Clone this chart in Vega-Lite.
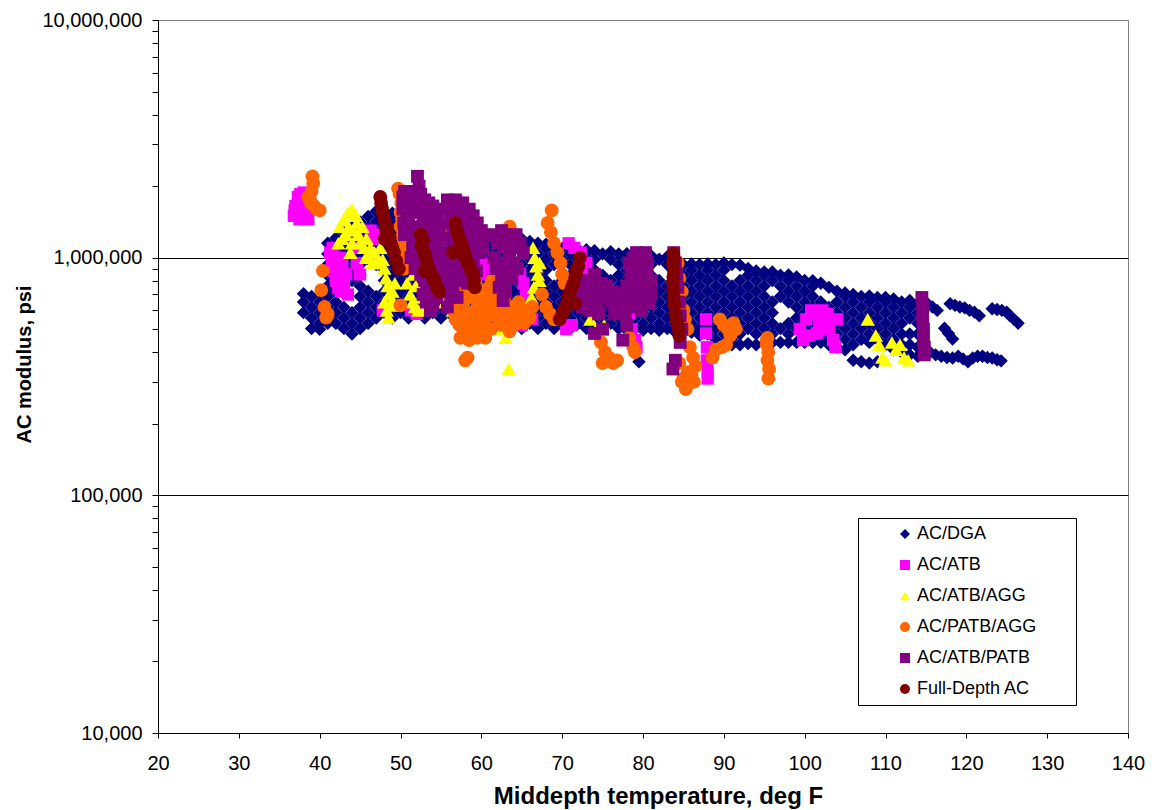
{
  "$schema": "https://vega.github.io/schema/vega-lite/v6.json",
  "width": 970,
  "height": 713,
  "autosize": {"type": "none"},
  "padding": {"left": 158, "top": 20, "right": 24, "bottom": 77},
  "background": "white",
  "config": {
    "font": "Liberation Sans",
    "view": {"stroke": "#808080", "strokeWidth": 1},
    "axis": {
      "domainColor": "black",
      "tickColor": "black",
      "labelColor": "black",
      "titleColor": "black",
      "labelFont": "Liberation Sans",
      "titleFont": "Liberation Sans",
      "labelFontSize": 20,
      "titleFontSize": 20,
      "titleFontWeight": "bold",
      "labelOverlap": false
    }
  },
  "datasets": {
    "dga": [
      {"x":38,"y":587000},{"x":38,"y":651000},{"x":38,"y":705000},
      {"x":39,"y":503000},{"x":39,"y":557000},{"x":39,"y":618000},{"x":39,"y":686000},
      {"x":40,"y":500000},{"x":40,"y":529000},{"x":40,"y":587000},{"x":40,"y":651000},
      {"x":41,"y":530000},{"x":41,"y":557000},{"x":41,"y":618000},{"x":41,"y":686000},{"x":41,"y":760000},{"x":41,"y":843000},{"x":41,"y":935000},{"x":41,"y":1037000},{"x":41,"y":1150000},
      {"x":42,"y":529000},{"x":42,"y":587000},{"x":42,"y":651000},{"x":42,"y":722000},{"x":42,"y":801000},{"x":42,"y":888000},{"x":42,"y":985000},{"x":42,"y":1092000},{"x":42,"y":1211000},
      {"x":43,"y":503000},{"x":43,"y":557000},{"x":43,"y":618000},{"x":43,"y":760000},{"x":43,"y":843000},{"x":43,"y":935000},{"x":43,"y":1037000},{"x":43,"y":1150000},{"x":43,"y":1275000},
      {"x":44,"y":477000},{"x":44,"y":529000},{"x":44,"y":587000},{"x":44,"y":801000},{"x":44,"y":888000},{"x":44,"y":985000},{"x":44,"y":1092000},{"x":44,"y":1211000},{"x":44,"y":1343000},
      {"x":45,"y":503000},{"x":45,"y":557000},{"x":45,"y":618000},{"x":45,"y":686000},{"x":45,"y":760000},{"x":45,"y":843000},{"x":45,"y":935000},{"x":45,"y":1037000},{"x":45,"y":1150000},{"x":45,"y":1275000},{"x":45,"y":1414000},
      {"x":46,"y":529000},{"x":46,"y":587000},{"x":46,"y":651000},{"x":46,"y":722000},{"x":46,"y":985000},{"x":46,"y":1092000},{"x":46,"y":1211000},{"x":46,"y":1343000},{"x":46,"y":1490000},
      {"x":47,"y":557000},{"x":47,"y":618000},{"x":47,"y":686000},{"x":47,"y":935000},{"x":47,"y":1037000},{"x":47,"y":1150000},{"x":47,"y":1275000},{"x":47,"y":1414000},{"x":47,"y":1568000},
      {"x":48,"y":587000},{"x":48,"y":651000},{"x":48,"y":722000},{"x":48,"y":801000},{"x":48,"y":888000},{"x":48,"y":985000},{"x":48,"y":1092000},{"x":48,"y":1211000},{"x":48,"y":1343000},{"x":48,"y":1490000},
      {"x":49,"y":557000},{"x":49,"y":618000},{"x":49,"y":686000},{"x":49,"y":760000},{"x":49,"y":843000},{"x":49,"y":935000},{"x":49,"y":1037000},{"x":49,"y":1150000},{"x":49,"y":1275000},{"x":49,"y":1414000},{"x":49,"y":1540000},
      {"x":50,"y":587000},{"x":50,"y":651000},{"x":50,"y":722000},{"x":50,"y":801000},{"x":50,"y":888000},{"x":50,"y":985000},{"x":50,"y":1092000},{"x":50,"y":1211000},{"x":50,"y":1343000},{"x":50,"y":1460000},
      {"x":51,"y":557000},{"x":51,"y":618000},{"x":51,"y":686000},{"x":51,"y":760000},{"x":51,"y":843000},{"x":51,"y":935000},{"x":51,"y":1037000},{"x":51,"y":1150000},{"x":51,"y":1275000},{"x":51,"y":1414000},
      {"x":52,"y":587000},{"x":52,"y":651000},{"x":52,"y":722000},{"x":52,"y":801000},{"x":52,"y":888000},{"x":52,"y":985000},{"x":52,"y":1092000},{"x":52,"y":1211000},{"x":52,"y":1343000},
      {"x":53,"y":557000},{"x":53,"y":618000},{"x":53,"y":686000},{"x":53,"y":760000},{"x":53,"y":843000},{"x":53,"y":935000},{"x":53,"y":1037000},{"x":53,"y":1150000},{"x":53,"y":1275000},
      {"x":54,"y":587000},{"x":54,"y":651000},{"x":54,"y":722000},{"x":54,"y":801000},{"x":54,"y":888000},{"x":54,"y":985000},{"x":54,"y":1092000},{"x":54,"y":1211000},{"x":54,"y":1343000},
      {"x":55,"y":557000},{"x":55,"y":618000},{"x":55,"y":686000},{"x":55,"y":760000},{"x":55,"y":843000},{"x":55,"y":935000},{"x":55,"y":1037000},{"x":55,"y":1150000},{"x":55,"y":1275000},
      {"x":56,"y":587000},{"x":56,"y":651000},{"x":56,"y":722000},{"x":56,"y":801000},{"x":56,"y":888000},{"x":56,"y":985000},{"x":56,"y":1092000},{"x":56,"y":1211000},{"x":56,"y":1290000},
      {"x":57,"y":557000},{"x":57,"y":618000},{"x":57,"y":686000},{"x":57,"y":760000},{"x":57,"y":843000},{"x":57,"y":935000},{"x":57,"y":1037000},{"x":57,"y":1150000},{"x":57,"y":1275000},
      {"x":58,"y":587000},{"x":58,"y":651000},{"x":58,"y":722000},{"x":58,"y":801000},{"x":58,"y":888000},{"x":58,"y":985000},{"x":58,"y":1092000},{"x":58,"y":1211000},{"x":58,"y":1260000},
      {"x":59,"y":557000},{"x":59,"y":618000},{"x":59,"y":686000},{"x":59,"y":760000},{"x":59,"y":843000},{"x":59,"y":935000},{"x":59,"y":1037000},{"x":59,"y":1150000},{"x":59,"y":1240000},
      {"x":60,"y":529000},{"x":60,"y":587000},{"x":60,"y":651000},{"x":60,"y":722000},{"x":60,"y":801000},{"x":60,"y":888000},{"x":60,"y":985000},{"x":60,"y":1092000},{"x":60,"y":1211000},
      {"x":61,"y":503000},{"x":61,"y":557000},{"x":61,"y":618000},{"x":61,"y":686000},{"x":61,"y":760000},{"x":61,"y":843000},{"x":61,"y":935000},{"x":61,"y":1037000},{"x":61,"y":1150000},{"x":61,"y":1220000},
      {"x":62,"y":529000},{"x":62,"y":587000},{"x":62,"y":651000},{"x":62,"y":722000},{"x":62,"y":801000},{"x":62,"y":888000},{"x":62,"y":985000},{"x":62,"y":1092000},{"x":62,"y":1211000},
      {"x":63,"y":503000},{"x":63,"y":557000},{"x":63,"y":618000},{"x":63,"y":686000},{"x":63,"y":760000},{"x":63,"y":843000},{"x":63,"y":935000},{"x":63,"y":1037000},{"x":63,"y":1150000},{"x":63,"y":1220000},
      {"x":64,"y":529000},{"x":64,"y":587000},{"x":64,"y":651000},{"x":64,"y":722000},{"x":64,"y":801000},{"x":64,"y":888000},{"x":64,"y":1092000},{"x":64,"y":1211000},
      {"x":65,"y":503000},{"x":65,"y":557000},{"x":65,"y":618000},{"x":65,"y":686000},{"x":65,"y":760000},{"x":65,"y":843000},{"x":65,"y":935000},{"x":65,"y":1150000},{"x":65,"y":1200000},
      {"x":66,"y":529000},{"x":66,"y":587000},{"x":66,"y":651000},{"x":66,"y":722000},{"x":66,"y":801000},{"x":66,"y":888000},{"x":66,"y":985000},{"x":66,"y":1092000},{"x":66,"y":1170000},
      {"x":67,"y":503000},{"x":67,"y":557000},{"x":67,"y":618000},{"x":67,"y":686000},{"x":67,"y":760000},{"x":67,"y":843000},{"x":67,"y":935000},{"x":67,"y":1037000},{"x":67,"y":1150000},
      {"x":68,"y":529000},{"x":68,"y":587000},{"x":68,"y":651000},{"x":68,"y":722000},{"x":68,"y":801000},{"x":68,"y":888000},{"x":68,"y":985000},{"x":68,"y":1092000},{"x":68,"y":1140000},
      {"x":69,"y":503000},{"x":69,"y":557000},{"x":69,"y":618000},{"x":69,"y":686000},{"x":69,"y":760000},{"x":69,"y":935000},{"x":69,"y":1037000},{"x":69,"y":1120000},
      {"x":70,"y":529000},{"x":70,"y":587000},{"x":70,"y":651000},{"x":70,"y":722000},{"x":70,"y":801000},{"x":70,"y":985000},{"x":70,"y":1092000},
      {"x":71,"y":503000},{"x":71,"y":557000},{"x":71,"y":618000},{"x":71,"y":686000},{"x":71,"y":760000},{"x":71,"y":843000},{"x":71,"y":935000},{"x":71,"y":1037000},{"x":71,"y":1100000},
      {"x":72,"y":529000},{"x":72,"y":587000},{"x":72,"y":651000},{"x":72,"y":722000},{"x":72,"y":801000},{"x":72,"y":888000},{"x":72,"y":985000},{"x":72,"y":1080000},
      {"x":73,"y":503000},{"x":73,"y":557000},{"x":73,"y":618000},{"x":73,"y":686000},{"x":73,"y":760000},{"x":73,"y":843000},{"x":73,"y":935000},{"x":73,"y":1037000},{"x":73,"y":1080000},
      {"x":74,"y":529000},{"x":74,"y":587000},{"x":74,"y":651000},{"x":74,"y":722000},{"x":74,"y":801000},{"x":74,"y":888000},{"x":74,"y":985000},{"x":74,"y":1070000},
      {"x":75,"y":503000},{"x":75,"y":557000},{"x":75,"y":618000},{"x":75,"y":686000},{"x":75,"y":760000},{"x":75,"y":843000},{"x":75,"y":1037000},
      {"x":76,"y":529000},{"x":76,"y":587000},{"x":76,"y":651000},{"x":76,"y":722000},{"x":76,"y":801000},{"x":76,"y":985000},{"x":76,"y":1060000},
      {"x":77,"y":503000},{"x":77,"y":557000},{"x":77,"y":618000},{"x":77,"y":686000},{"x":77,"y":760000},{"x":77,"y":843000},{"x":77,"y":935000},{"x":77,"y":1037000},
      {"x":78,"y":495000},{"x":78,"y":529000},{"x":78,"y":587000},{"x":78,"y":651000},{"x":78,"y":722000},{"x":78,"y":801000},{"x":78,"y":888000},{"x":78,"y":985000},{"x":78,"y":1040000},
      {"x":79,"y":503000},{"x":79,"y":557000},{"x":79,"y":618000},{"x":79,"y":686000},{"x":79,"y":760000},{"x":79,"y":843000},{"x":79,"y":935000},{"x":79,"y":1030000},{"x":79.5,"y":365000},
      {"x":80,"y":495000},{"x":80,"y":529000},{"x":80,"y":587000},{"x":80,"y":651000},{"x":80,"y":722000},{"x":80,"y":801000},{"x":80,"y":888000},{"x":80,"y":985000},
      {"x":81,"y":503000},{"x":81,"y":557000},{"x":81,"y":618000},{"x":81,"y":686000},{"x":81,"y":760000},{"x":81,"y":843000},{"x":81,"y":935000},{"x":81,"y":1020000},
      {"x":82,"y":495000},{"x":82,"y":529000},{"x":82,"y":587000},{"x":82,"y":651000},{"x":82,"y":722000},{"x":82,"y":801000},{"x":82,"y":985000},
      {"x":83,"y":503000},{"x":83,"y":557000},{"x":83,"y":618000},{"x":83,"y":686000},{"x":83,"y":760000},{"x":83,"y":935000},{"x":83,"y":1010000},
      {"x":84,"y":485000},{"x":84,"y":529000},{"x":84,"y":587000},{"x":84,"y":651000},{"x":84,"y":722000},{"x":84,"y":801000},{"x":84,"y":888000},{"x":84,"y":985000},
      {"x":85,"y":490000},{"x":85,"y":557000},{"x":85,"y":618000},{"x":85,"y":686000},{"x":85,"y":760000},{"x":85,"y":843000},{"x":85,"y":935000},
      {"x":86,"y":485000},{"x":86,"y":529000},{"x":86,"y":587000},{"x":86,"y":651000},{"x":86,"y":722000},{"x":86,"y":801000},{"x":86,"y":888000},{"x":86,"y":940000},
      {"x":87,"y":472000},{"x":87,"y":503000},{"x":87,"y":557000},{"x":87,"y":618000},{"x":87,"y":686000},{"x":87,"y":760000},{"x":87,"y":843000},{"x":87,"y":935000},
      {"x":88,"y":477000},{"x":88,"y":529000},{"x":88,"y":587000},{"x":88,"y":651000},{"x":88,"y":722000},{"x":88,"y":801000},{"x":88,"y":888000},{"x":88,"y":940000},
      {"x":89,"y":453000},{"x":89,"y":503000},{"x":89,"y":557000},{"x":89,"y":618000},{"x":89,"y":686000},{"x":89,"y":760000},{"x":89,"y":843000},{"x":89,"y":935000},
      {"x":90,"y":440000},{"x":90,"y":477000},{"x":90,"y":529000},{"x":90,"y":587000},{"x":90,"y":651000},{"x":90,"y":722000},{"x":90,"y":801000},{"x":90,"y":888000},{"x":90,"y":950000},
      {"x":91,"y":430000},{"x":91,"y":453000},{"x":91,"y":503000},{"x":91,"y":557000},{"x":91,"y":618000},{"x":91,"y":686000},{"x":91,"y":760000},{"x":91,"y":935000},
      {"x":92,"y":430000},{"x":92,"y":477000},{"x":92,"y":529000},{"x":92,"y":587000},{"x":92,"y":651000},{"x":92,"y":722000},{"x":92,"y":801000},{"x":92,"y":930000},
      {"x":93,"y":435000},{"x":93,"y":503000},{"x":93,"y":557000},{"x":93,"y":618000},{"x":93,"y":686000},{"x":93,"y":760000},{"x":93,"y":843000},{"x":93,"y":900000},
      {"x":94,"y":430000},{"x":94,"y":477000},{"x":94,"y":529000},{"x":94,"y":587000},{"x":94,"y":651000},{"x":94,"y":722000},{"x":94,"y":801000},{"x":94,"y":880000},
      {"x":95,"y":435000},{"x":95,"y":503000},{"x":95,"y":557000},{"x":95,"y":618000},{"x":95,"y":686000},{"x":95,"y":760000},{"x":95,"y":843000},{"x":95,"y":870000},
      {"x":96,"y":440000},{"x":96,"y":477000},{"x":96,"y":529000},{"x":96,"y":587000},{"x":96,"y":651000},{"x":96,"y":801000},{"x":96,"y":870000},
      {"x":97,"y":440000},{"x":97,"y":503000},{"x":97,"y":686000},{"x":97,"y":760000},{"x":97,"y":843000},
      {"x":98,"y":440000},{"x":98,"y":477000},{"x":98,"y":529000},{"x":98,"y":651000},{"x":98,"y":722000},{"x":98,"y":801000},{"x":98,"y":845000},
      {"x":99,"y":440000},{"x":99,"y":503000},{"x":99,"y":557000},{"x":99,"y":618000},{"x":99,"y":686000},{"x":99,"y":760000},{"x":99,"y":830000},
      {"x":100,"y":440000},{"x":100,"y":477000},{"x":100,"y":529000},{"x":100,"y":587000},{"x":100,"y":651000},{"x":100,"y":722000},{"x":100,"y":801000},
      {"x":101,"y":440000},{"x":101,"y":503000},{"x":101,"y":557000},{"x":101,"y":618000},{"x":101,"y":686000},{"x":101,"y":760000},{"x":101,"y":800000},
      {"x":102,"y":440000},{"x":102,"y":477000},{"x":102,"y":529000},{"x":102,"y":587000},{"x":102,"y":651000},{"x":102,"y":780000},
      {"x":103,"y":430000},{"x":103,"y":453000},{"x":103,"y":503000},{"x":103,"y":557000},{"x":103,"y":618000},{"x":103,"y":750000},
      {"x":104,"y":420000},{"x":104,"y":477000},{"x":104,"y":529000},{"x":104,"y":587000},{"x":104,"y":651000},{"x":104,"y":722000},
      {"x":105,"y":410000},{"x":105,"y":453000},{"x":105,"y":503000},{"x":105,"y":557000},{"x":105,"y":618000},{"x":105,"y":686000},{"x":105,"y":710000},
      {"x":106,"y":370000},{"x":106,"y":430000},{"x":106,"y":477000},{"x":106,"y":529000},{"x":106,"y":587000},{"x":106,"y":651000},{"x":106,"y":700000},
      {"x":107,"y":365000},{"x":107,"y":453000},{"x":107,"y":503000},{"x":107,"y":557000},{"x":107,"y":618000},{"x":107,"y":686000},
      {"x":108,"y":360000},{"x":108,"y":440000},{"x":108,"y":477000},{"x":108,"y":529000},{"x":108,"y":587000},{"x":108,"y":651000},{"x":108,"y":690000},
      {"x":109,"y":365000},{"x":109,"y":453000},{"x":109,"y":503000},{"x":109,"y":557000},{"x":109,"y":618000},{"x":109,"y":680000},
      {"x":110,"y":430000},{"x":110,"y":477000},{"x":110,"y":529000},{"x":110,"y":587000},{"x":110,"y":651000},{"x":110,"y":680000},
      {"x":111,"y":410000},{"x":111,"y":453000},{"x":111,"y":503000},{"x":111,"y":557000},{"x":111,"y":618000},{"x":111,"y":670000},
      {"x":112,"y":400000},{"x":112,"y":430000},{"x":112,"y":477000},{"x":112,"y":529000},{"x":112,"y":587000},{"x":112,"y":651000},
      {"x":113,"y":390000},{"x":113,"y":430000},{"x":113,"y":477000},{"x":113,"y":557000},{"x":113,"y":618000},{"x":113,"y":660000},
      {"x":114,"y":385000},{"x":114,"y":420000},{"x":114,"y":477000},{"x":114,"y":529000},{"x":114,"y":587000},{"x":114,"y":640000},
      {"x":115.2,"y":640000},{"x":115.5,"y":400000},{"x":115.8,"y":620000},{"x":116.2,"y":390000},{"x":116.4,"y":600000},{"x":116.9,"y":385000},
      {"x":117.3,"y":505000},{"x":117.6,"y":380000},{"x":117.8,"y":480000},{"x":118.3,"y":455000},{"x":118.3,"y":378000},
      {"x":118,"y":640000},{"x":118.6,"y":630000},{"x":119,"y":385000},{"x":119.2,"y":620000},{"x":119.6,"y":375000},{"x":119.8,"y":615000},
      {"x":120.2,"y":365000},{"x":120.4,"y":600000},{"x":120.8,"y":378000},{"x":121,"y":590000},{"x":121.4,"y":385000},{"x":121.6,"y":570000},
      {"x":122,"y":385000},{"x":122.6,"y":380000},{"x":123.2,"y":610000},{"x":123.2,"y":378000},{"x":123.8,"y":605000},{"x":123.8,"y":372000},
      {"x":124.3,"y":368000},{"x":124.4,"y":600000},{"x":125,"y":590000},{"x":125.4,"y":570000},{"x":125.9,"y":550000},{"x":126.4,"y":530000}
    ],
    "atb": [
      {"x":36.8,"y":1500000},{"x":37,"y":1650000},{"x":37.3,"y":1800000},{"x":37.6,"y":1850000},{"x":38,"y":1700000},{"x":38.3,"y":1550000},{"x":38.6,"y":1450000},{"x":37.5,"y":1450000},{"x":38,"y":1880000},{"x":36.9,"y":1580000},
      {"x":41.3,"y":1050000},{"x":41.5,"y":950000},{"x":41.8,"y":880000},{"x":42,"y":800000},{"x":42.3,"y":750000},{"x":42.6,"y":720000},{"x":43,"y":780000},{"x":43.3,"y":850000},{"x":42.8,"y":950000},{"x":43.5,"y":700000},{"x":42.5,"y":1000000},{"x":41.6,"y":1100000},
      {"x":44.3,"y":1100000},{"x":44.6,"y":950000},{"x":45,"y":850000},{"x":46.3,"y":1300000},{"x":46.8,"y":1200000},{"x":47.3,"y":1250000},{"x":47.8,"y":600000},
      {"x":51.3,"y":600000},{"x":52,"y":580000},
      {"x":59.5,"y":1000000},{"x":60.5,"y":950000},{"x":61.5,"y":900000},{"x":60,"y":850000},
      {"x":64.8,"y":850000},{"x":65.2,"y":780000},{"x":65.5,"y":700000},{"x":65.9,"y":620000},{"x":66.3,"y":550000},{"x":65,"y":520000},
      {"x":70.8,"y":1150000},{"x":71.5,"y":1100000},{"x":72.3,"y":1050000},{"x":73,"y":950000},{"x":72.8,"y":880000},{"x":70.5,"y":500000},{"x":71.2,"y":520000},
      {"x":78.3,"y":580000},{"x":78.6,"y":500000},{"x":79,"y":450000},{"x":79.2,"y":420000},
      {"x":87.8,"y":550000},{"x":87.8,"y":480000},{"x":87.9,"y":420000},{"x":87.9,"y":370000},{"x":88,"y":330000},{"x":88,"y":310000},
      {"x":99.4,"y":500000},{"x":99.8,"y":450000},{"x":100.2,"y":550000},{"x":100.8,"y":600000},{"x":101.3,"y":580000},{"x":101.8,"y":520000},{"x":102.2,"y":600000},{"x":102.6,"y":550000},{"x":103,"y":500000},{"x":103.5,"y":450000},{"x":103.8,"y":420000},{"x":100.5,"y":470000},{"x":101.5,"y":480000},{"x":102.8,"y":580000},{"x":104,"y":550000}
    ],
    "atbagg": [
      {"x":42.5,"y":1350000},{"x":43,"y":1450000},{"x":43.5,"y":1550000},{"x":44,"y":1600000},{"x":44.5,"y":1500000},{"x":44.2,"y":1300000},{"x":44.8,"y":1250000},{"x":45.3,"y":1350000},{"x":45.8,"y":1200000},{"x":46.3,"y":1100000},{"x":46.8,"y":1050000},{"x":47.2,"y":980000},{"x":45.5,"y":1100000},{"x":44,"y":1150000},{"x":43.2,"y":1250000},{"x":46,"y":1000000},{"x":47,"y":950000},
      {"x":42.8,"y":1200000},{"x":43.6,"y":1350000},{"x":44.6,"y":1400000},{"x":45,"y":1150000},{"x":45.7,"y":1000000},{"x":46.5,"y":950000},{"x":43.8,"y":1050000},{"x":47.5,"y":1100000},{"x":42.3,"y":1150000},
      {"x":47.8,"y":980000},{"x":48,"y":900000},{"x":48.2,"y":820000},{"x":48.4,"y":760000},{"x":48.6,"y":700000},{"x":48.8,"y":650000},{"x":48.3,"y":600000},{"x":49,"y":720000},{"x":49.3,"y":780000},{"x":48,"y":650000},{"x":48.5,"y":560000},{"x":49.2,"y":630000},
      {"x":50.8,"y":780000},{"x":51.2,"y":700000},{"x":51.5,"y":650000},{"x":51.8,"y":620000},{"x":52.2,"y":600000},{"x":52.5,"y":680000},{"x":51,"y":1000000},{"x":51.4,"y":920000},{"x":51.6,"y":850000},{"x":51.9,"y":760000},{"x":52.8,"y":620000},
      {"x":55.5,"y":650000},{"x":56.5,"y":600000},{"x":57,"y":580000},
      {"x":62.5,"y":500000},{"x":63,"y":460000},{"x":63.4,"y":340000},
      {"x":66.4,"y":1100000},{"x":66.6,"y":1000000},{"x":66.8,"y":920000},{"x":67,"y":850000},{"x":67.2,"y":800000},{"x":66.5,"y":750000},{"x":66.2,"y":680000},{"x":67.2,"y":950000},
      {"x":73.5,"y":550000},{"x":74.2,"y":500000},{"x":74.8,"y":470000},{"x":75.2,"y":520000},
      {"x":107.8,"y":550000},{"x":108.8,"y":470000},{"x":109.2,"y":430000},{"x":109.6,"y":380000},{"x":110,"y":370000},{"x":110.8,"y":440000},{"x":111.3,"y":410000},{"x":111.8,"y":430000},{"x":112.3,"y":380000},{"x":112.8,"y":370000}
    ],
    "patbagg": [
      {"x":39.1,"y":2200000},{"x":39.2,"y":2050000},{"x":39,"y":1900000},{"x":38.6,"y":1800000},{"x":38.9,"y":1700000},{"x":39.3,"y":1650000},{"x":39.6,"y":1600000},{"x":40,"y":1580000},{"x":38.8,"y":1750000},
      {"x":40.4,"y":880000},{"x":40.2,"y":730000},{"x":40.6,"y":620000},{"x":41,"y":580000},{"x":40.8,"y":560000},
      {"x":49.7,"y":1950000},{"x":49.9,"y":1850000},{"x":50.1,"y":1700000},{"x":50,"y":1550000},{"x":50.2,"y":1450000},{"x":50,"y":1350000},{"x":50.3,"y":1250000},{"x":50.1,"y":1150000},{"x":50.4,"y":1050000},{"x":50.2,"y":950000},{"x":50.5,"y":900000},{"x":50,"y":630000},
      {"x":55.2,"y":1450000},{"x":55.3,"y":1300000},{"x":55.4,"y":1200000},
      {"x":57,"y":900000},{"x":57.5,"y":800000},{"x":57.2,"y":700000},{"x":57.8,"y":650000},{"x":58,"y":580000},{"x":58.5,"y":550000},{"x":58.3,"y":750000},{"x":59,"y":680000},{"x":59.5,"y":620000},{"x":59.8,"y":550000},{"x":60.2,"y":700000},{"x":60.5,"y":600000},{"x":61,"y":570000},{"x":61.3,"y":800000},{"x":61.5,"y":650000},{"x":61.8,"y":580000},{"x":62.2,"y":550000},{"x":62.5,"y":600000},{"x":62.8,"y":680000},{"x":63.2,"y":580000},{"x":63.5,"y":540000},{"x":63.8,"y":620000},{"x":64.3,"y":580000},{"x":64.8,"y":550000},{"x":65,"y":600000},{"x":65.5,"y":580000},{"x":66,"y":560000},{"x":56.8,"y":550000},{"x":57.3,"y":520000},{"x":58.8,"y":500000},{"x":60,"y":520000},{"x":61.2,"y":500000},{"x":56.5,"y":600000},{"x":58,"y":850000},{"x":59.3,"y":780000},{"x":60.8,"y":740000},
      {"x":57.8,"y":720000},{"x":58.9,"y":590000},{"x":59.9,"y":640000},{"x":60.8,"y":650000},{"x":61.8,"y":700000},{"x":62.6,"y":520000},{"x":63.5,"y":490000},{"x":64,"y":520000},{"x":64.6,"y":650000},{"x":65.3,"y":530000},{"x":66.3,"y":620000},{"x":56.9,"y":610000},{"x":57.9,"y":490000},{"x":60.4,"y":550000},{"x":62,"y":630000},{"x":59.2,"y":530000},
      {"x":57.4,"y":460000},{"x":58.5,"y":450000},{"x":59.5,"y":460000},{"x":60.5,"y":460000},{"x":58.3,"y":380000},{"x":58,"y":370000},
      {"x":63.5,"y":1350000},{"x":63.6,"y":1280000},
      {"x":68.7,"y":1580000},{"x":68.2,"y":1400000},{"x":68.6,"y":1280000},{"x":69,"y":1150000},{"x":69.4,"y":1050000},{"x":69.8,"y":950000},{"x":70,"y":850000},{"x":70.3,"y":780000},
      {"x":67.5,"y":700000},{"x":68,"y":620000},{"x":68.5,"y":580000},{"x":69,"y":550000},
      {"x":74.8,"y":440000},{"x":75.3,"y":400000},{"x":75.8,"y":380000},{"x":76.3,"y":360000},{"x":76.8,"y":370000},{"x":75,"y":360000},
      {"x":78.3,"y":460000},{"x":78.8,"y":420000},{"x":79,"y":400000},
      {"x":84.3,"y":950000},{"x":84.5,"y":820000},{"x":84.8,"y":720000},{"x":85,"y":600000},{"x":85.2,"y":550000},{"x":85.5,"y":500000},{"x":85.8,"y":420000},{"x":86.2,"y":380000},{"x":86.5,"y":350000},{"x":85.5,"y":330000},{"x":85,"y":310000},{"x":84.8,"y":300000},{"x":85.3,"y":280000},{"x":86,"y":320000},{"x":84.5,"y":360000},{"x":86.3,"y":300000},
      {"x":89.5,"y":550000},{"x":90,"y":520000},{"x":90.5,"y":500000},{"x":90.8,"y":470000},{"x":90.3,"y":430000},{"x":89.8,"y":420000},{"x":89,"y":410000},{"x":88.6,"y":380000},{"x":91.2,"y":530000},{"x":91.5,"y":500000},
      {"x":95.4,"y":460000},{"x":95.3,"y":430000},{"x":95.5,"y":400000},{"x":95.4,"y":370000},{"x":95.6,"y":340000},{"x":95.5,"y":310000},{"x":95.3,"y":450000}
    ],
    "atbpatb": [
      {"x":50.5,"y":1900000},{"x":51,"y":1850000},{"x":51.5,"y":1800000},{"x":52,"y":1900000},{"x":52.5,"y":1850000},{"x":53,"y":1750000},{"x":53.5,"y":1700000},{"x":54,"y":1650000},{"x":52.1,"y":2200000},{"x":52.3,"y":2000000},{"x":50.6,"y":1700000},{"x":51.2,"y":1600000},{"x":51.8,"y":1550000},{"x":52.4,"y":1600000},{"x":53,"y":1500000},{"x":53.6,"y":1450000},{"x":54.2,"y":1400000},{"x":51,"y":1400000},{"x":51.7,"y":1300000},{"x":52.3,"y":1350000},{"x":53,"y":1250000},{"x":53.8,"y":1200000},{"x":54.5,"y":1500000},{"x":54.8,"y":1300000},{"x":52,"y":1150000},{"x":52.5,"y":1050000},{"x":53.2,"y":1000000},{"x":53.8,"y":950000},{"x":54.5,"y":1100000},{"x":55,"y":900000},{"x":52,"y":950000},{"x":52.5,"y":850000},{"x":53,"y":800000},{"x":53.5,"y":750000},{"x":54,"y":700000},{"x":54.5,"y":680000},{"x":55,"y":750000},{"x":55.5,"y":720000},{"x":53.2,"y":650000},{"x":54,"y":630000},{"x":50.8,"y":1500000},{"x":51.5,"y":1100000},
      {"x":50.3,"y":1800000},{"x":50.3,"y":1600000},{"x":50.4,"y":1400000},{"x":50.5,"y":1250000},{"x":51,"y":1250000},{"x":51.3,"y":1000000},{"x":51.8,"y":1000000},{"x":51.8,"y":900000},{"x":52.2,"y":1700000},{"x":52.8,"y":1650000},{"x":53.3,"y":1600000},{"x":53.8,"y":1550000},{"x":54.3,"y":1550000},{"x":52.8,"y":1400000},{"x":53.4,"y":1350000},{"x":54,"y":1300000},{"x":52.7,"y":1200000},{"x":53.4,"y":1100000},{"x":54.2,"y":1000000},{"x":54.8,"y":1000000},{"x":54.6,"y":850000},{"x":55.2,"y":820000},{"x":53.8,"y":800000},{"x":52.8,"y":700000},{"x":53.7,"y":600000},{"x":55.2,"y":1200000},{"x":55.3,"y":1400000},{"x":55,"y":1600000},
      {"x":56,"y":1650000},{"x":56.5,"y":1700000},{"x":57,"y":1700000},{"x":57.5,"y":1600000},{"x":58,"y":1550000},{"x":56.2,"y":1500000},{"x":57,"y":1450000},{"x":57.8,"y":1400000},{"x":58.5,"y":1350000},{"x":59,"y":1250000},{"x":59.5,"y":1200000},{"x":56.5,"y":1300000},{"x":57.3,"y":1250000},{"x":58.2,"y":1200000},{"x":56.8,"y":1100000},{"x":57.5,"y":1050000},{"x":58.3,"y":1000000},{"x":59,"y":950000},{"x":59.8,"y":1050000},{"x":60.2,"y":1100000},{"x":56.3,"y":950000},{"x":57,"y":900000},{"x":58,"y":850000},{"x":56,"y":850000},{"x":56.5,"y":750000},{"x":57,"y":680000},{"x":55.8,"y":620000},
      {"x":55.8,"y":1750000},{"x":56.8,"y":1750000},{"x":57.7,"y":1700000},{"x":58.5,"y":1600000},{"x":59,"y":1500000},{"x":59.5,"y":1400000},{"x":60,"y":1300000},{"x":60.3,"y":1250000},{"x":58.8,"y":1100000},{"x":59.4,"y":1100000},{"x":58.6,"y":1200000},{"x":57.7,"y":1300000},{"x":56.2,"y":1200000},{"x":56,"y":1050000},{"x":57.7,"y":950000},{"x":58.7,"y":900000},{"x":59.4,"y":880000},{"x":57.5,"y":800000},{"x":58.3,"y":780000},{"x":56.2,"y":700000},
      {"x":62.5,"y":1300000},{"x":63,"y":1250000},{"x":63.5,"y":1200000},{"x":62.8,"y":1100000},{"x":63.5,"y":1050000},{"x":64,"y":1150000},{"x":64.5,"y":1100000},{"x":62.6,"y":950000},{"x":63.2,"y":880000},{"x":62.5,"y":800000},{"x":63,"y":720000},{"x":62.7,"y":660000},
      {"x":61.8,"y":1250000},{"x":62,"y":1150000},{"x":61.5,"y":1000000},{"x":61.8,"y":900000},{"x":64.3,"y":1250000},{"x":64.8,"y":1150000},{"x":65.2,"y":1050000},{"x":64,"y":950000},{"x":63.8,"y":820000},{"x":64.5,"y":900000},{"x":62.2,"y":750000},
      {"x":72.2,"y":750000},{"x":72.8,"y":720000},{"x":73.3,"y":680000},{"x":73.8,"y":700000},{"x":74.3,"y":650000},{"x":74.8,"y":780000},{"x":75,"y":720000},{"x":75.5,"y":680000},{"x":76,"y":660000},{"x":76.5,"y":640000},{"x":77,"y":650000},{"x":77.5,"y":620000},{"x":72.5,"y":620000},{"x":73.5,"y":600000},{"x":74.5,"y":580000},{"x":73,"y":800000},{"x":74,"y":850000},
      {"x":72,"y":680000},{"x":72.6,"y":800000},{"x":73.5,"y":760000},{"x":74.2,"y":740000},{"x":75.5,"y":760000},{"x":76.2,"y":720000},{"x":76.8,"y":700000},{"x":77.3,"y":680000},{"x":78,"y":660000},{"x":78,"y":760000},{"x":76.5,"y":580000},{"x":77.8,"y":580000},
      {"x":78.3,"y":950000},{"x":78.8,"y":1000000},{"x":79.3,"y":950000},{"x":80,"y":1000000},{"x":80.5,"y":950000},{"x":78.5,"y":850000},{"x":79.2,"y":800000},{"x":79.8,"y":850000},{"x":80.3,"y":780000},{"x":78.6,"y":720000},{"x":79.5,"y":700000},{"x":80.2,"y":680000},{"x":78.8,"y":620000},{"x":79.8,"y":600000},{"x":75,"y":500000},{"x":77.5,"y":450000},{"x":74,"y":480000},{"x":78,"y":520000},
      {"x":79,"y":900000},{"x":80.5,"y":880000},{"x":81,"y":800000},{"x":81,"y":700000},{"x":80.8,"y":640000},{"x":79.2,"y":1050000},{"x":80.3,"y":1050000},
      {"x":83.8,"y":1050000},{"x":84,"y":950000},{"x":84.2,"y":850000},{"x":84.3,"y":750000},{"x":84.5,"y":650000},{"x":84.6,"y":570000},{"x":84.8,"y":500000},{"x":84.6,"y":440000},{"x":83.7,"y":340000},{"x":84,"y":370000},
      {"x":114.5,"y":680000},{"x":114.6,"y":620000},{"x":114.6,"y":550000},{"x":114.7,"y":500000},{"x":114.7,"y":450000},{"x":114.8,"y":420000},{"x":114.8,"y":390000}
    ],
    "fulldepth": [
      {"x":47.5,"y":1800000},{"x":47.6,"y":1700000},{"x":47.8,"y":1550000},{"x":48,"y":1450000},{"x":48.3,"y":1350000},{"x":48.5,"y":1250000},{"x":48.8,"y":1150000},{"x":49.2,"y":1050000},{"x":49.5,"y":970000},{"x":49.8,"y":900000},{"x":48,"y":1200000},
      {"x":47.7,"y":1620000},{"x":48.2,"y":1300000},{"x":48.6,"y":1200000},{"x":49,"y":1100000},
      {"x":52.5,"y":1250000},{"x":52.8,"y":1180000},{"x":53,"y":1050000},{"x":53.3,"y":950000},{"x":53.5,"y":900000},{"x":53.8,"y":850000},{"x":54.2,"y":800000},{"x":54.5,"y":750000},{"x":54.8,"y":720000},{"x":53,"y":880000},
      {"x":52.6,"y":1120000},{"x":53.1,"y":1000000},{"x":53.6,"y":870000},{"x":54,"y":830000},
      {"x":56.8,"y":1400000},{"x":57,"y":1300000},{"x":57.3,"y":1200000},{"x":57.7,"y":1100000},{"x":58,"y":1000000},{"x":58.3,"y":950000},{"x":58.6,"y":900000},{"x":59,"y":850000},{"x":59.2,"y":750000},{"x":56.5,"y":1050000},
      {"x":57.1,"y":1250000},{"x":57.5,"y":1150000},{"x":57.9,"y":1050000},{"x":58.5,"y":930000},{"x":59.1,"y":800000},
      {"x":72.2,"y":1000000},{"x":72,"y":920000},{"x":71.7,"y":850000},{"x":71.4,"y":780000},{"x":71,"y":720000},{"x":70.7,"y":660000},{"x":70.4,"y":620000},{"x":70,"y":580000},{"x":69.7,"y":550000},{"x":71.6,"y":640000},
      {"x":71.8,"y":890000},{"x":71.2,"y":750000},{"x":70.8,"y":690000},{"x":70.2,"y":600000},
      {"x":83.8,"y":1000000},{"x":83.7,"y":950000},{"x":83.8,"y":880000},{"x":83.7,"y":780000},{"x":83.8,"y":680000},{"x":83.9,"y":630000},{"x":84,"y":580000},{"x":84.2,"y":540000},{"x":84.4,"y":500000},{"x":84.5,"y":470000},
      {"x":83.75,"y":1040000},{"x":83.75,"y":830000},{"x":83.75,"y":730000},{"x":84.3,"y":520000}
    ]
  },
  "encoding": {
    "x": {
      "field": "x",
      "type": "quantitative",
      "title": "Middepth temperature, deg F",
      "scale": {"domain": [20, 140], "nice": false, "zero": false},
      "axis": {
        "values": [20, 30, 40, 50, 60, 70, 80, 90, 100, 110, 120, 130, 140],
        "format": "d",
        "labelFlush": false,
        "labelPadding": 15,
        "tickSize": 5,
        "grid": false,
        "titleFontSize": 24,
        "titleX": 500,
        "titleY": 51
      }
    },
    "y": {
      "field": "y",
      "type": "quantitative",
      "title": "AC modulus, psi",
      "scale": {"type": "log", "domain": [10000, 10000000], "nice": false},
      "axis": {
        "values": [10000, 20000, 30000, 40000, 50000, 60000, 70000, 80000, 90000, 100000, 200000, 300000, 400000, 500000, 600000, 700000, 800000, 900000, 1000000, 2000000, 3000000, 4000000, 5000000, 6000000, 7000000, 8000000, 9000000, 10000000],
        "labelExpr": "indexof([10000, 100000, 1000000, 10000000], datum.value) >= 0 ? format(datum.value, ',') : ''",
        "labelPadding": 10,
        "tickSize": 6,
        "grid": true,
        "gridColor": "black",
        "gridOpacity": {"condition": {"test": "datum.value === 100000 || datum.value === 1000000", "value": 1}, "value": 0},
        "titleX": -124,
        "titleY": 344,
        "encode": {
          "ticks": {
            "update": {
              "x2": {"signal": "indexof([10000, 100000, 1000000, 10000000], datum.value) >= 0 ? -6 : 5"}
            }
          }
        }
      }
    }
  },
  "layer": [
    {
      "data": {"name": "dga"},
      "mark": {"type": "point", "filled": true, "size": 180, "opacity": 1, "strokeWidth": 0},
      "encoding": {
        "color": {
          "datum": "AC/DGA", "type": "nominal",
          "scale": {"domain": ["AC/DGA", "AC/ATB", "AC/ATB/AGG", "AC/PATB/AGG", "AC/ATB/PATB", "Full-Depth AC"], "range": ["#000080", "#FF00FF", "#FFFF00", "#FF6600", "#800080", "#800000"]},
          "legend": {
            "title": " ",
            "titleOrient": "right",
            "titlePadding": 33,
            "titleFontSize": 18,
            "orient": "none",
            "legendX": 700,
            "legendY": 498,
            "padding": 7,
            "symbolOffset": 31,
            "labelOffset": 3,
            "rowPadding": 13,
            "symbolSize": 100,
            "symbolStrokeWidth": 0,
            "labelFont": "Liberation Sans",
            "labelFontSize": 18,
            "labelColor": "black",
            "labelLimit": 300,
            "strokeColor": "black",
            "fillColor": "white"
          }
        },
        "shape": {
          "datum": "AC/DGA", "type": "nominal",
          "scale": {"domain": ["AC/DGA", "AC/ATB", "AC/ATB/AGG", "AC/PATB/AGG", "AC/ATB/PATB", "Full-Depth AC"], "range": ["diamond", "square", "triangle-up", "circle", "square", "circle"]}
        }
      }
    },
    {
      "data": {"name": "atb"},
      "mark": {"type": "point", "filled": true, "size": 150, "opacity": 1, "strokeWidth": 0},
      "encoding": {
        "color": {"datum": "AC/ATB", "type": "nominal"},
        "shape": {"datum": "AC/ATB", "type": "nominal"}
      }
    },
    {
      "data": {"name": "atbagg"},
      "mark": {"type": "point", "filled": true, "size": 210, "opacity": 1, "strokeWidth": 0},
      "encoding": {
        "color": {"datum": "AC/ATB/AGG", "type": "nominal"},
        "shape": {"datum": "AC/ATB/AGG", "type": "nominal"}
      }
    },
    {
      "data": {"name": "patbagg"},
      "mark": {"type": "point", "filled": true, "size": 190, "opacity": 1, "strokeWidth": 0},
      "encoding": {
        "color": {"datum": "AC/PATB/AGG", "type": "nominal"},
        "shape": {"datum": "AC/PATB/AGG", "type": "nominal"}
      }
    },
    {
      "data": {"name": "atbpatb"},
      "mark": {"type": "point", "filled": true, "size": 165, "opacity": 1, "strokeWidth": 0},
      "encoding": {
        "color": {"datum": "AC/ATB/PATB", "type": "nominal"},
        "shape": {"datum": "AC/ATB/PATB", "type": "nominal"}
      }
    },
    {
      "data": {"name": "fulldepth"},
      "mark": {"type": "point", "filled": true, "size": 190, "opacity": 1, "strokeWidth": 0},
      "encoding": {
        "color": {"datum": "Full-Depth AC", "type": "nominal"},
        "shape": {"datum": "Full-Depth AC", "type": "nominal"}
      }
    }
  ]
}
